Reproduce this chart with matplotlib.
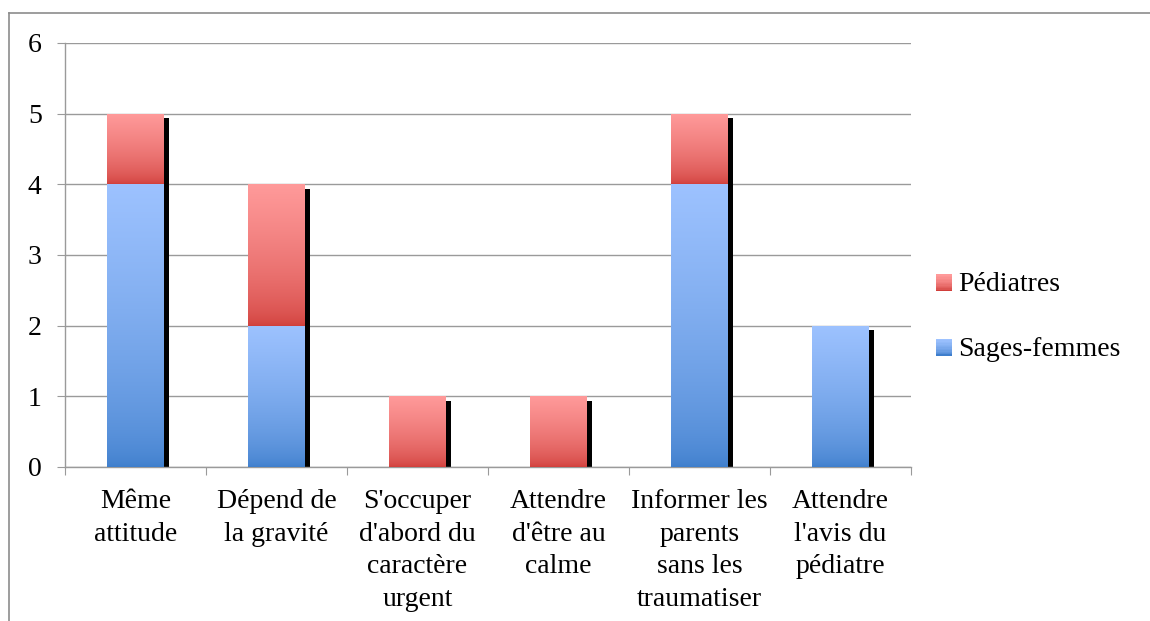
import numpy as np
import matplotlib
matplotlib.use("Agg")
import matplotlib.pyplot as plt
from matplotlib.transforms import ScaledTranslation
from matplotlib.patches import Rectangle
from matplotlib.legend_handler import HandlerBase
from matplotlib.lines import Line2D

categories = ["Même\nattitude", "Dépend de\nla gravité", "S'occuper\nd'abord du\ncaractère\nurgent",
              "Attendre\nd'être au\ncalme", "Informer les\nparents\nsans les\ntraumatiser",
              "Attendre\nl'avis du\npédiatre"]
sages_femmes = [4, 2, 0, 0, 4, 2]
pediatres = [1, 2, 1, 1, 1, 0]
yticks = [0, 1, 2, 3, 4, 5, 6]

blue_dark, blue_light = np.array([62, 126, 204]) / 255, np.array([157, 194, 255]) / 255
red_dark, red_light = np.array([208, 62, 58]) / 255, np.array([255, 154, 154]) / 255

plt.rcParams['font.family'] = ['Liberation Serif', 'DejaVu Serif']
FS = 20

DPI = 100
fig = plt.figure(figsize=(11.5, 6.21), dpi=DPI)
W, H = 1150, 621
ax = fig.add_axes([65 / W, 1 - 467 / H, (911 - 65) / W, (467 - 43) / H])

# outer frame (top and left visible)
fig.add_artist(Line2D([9 / W, 1.0], [1 - 13 / H, 1 - 13 / H], transform=fig.transFigure, color='#8c8c8c', lw=1.2))
fig.add_artist(Line2D([9 / W, 9 / W], [0, 1 - 13 / H], transform=fig.transFigure, color='#8c8c8c', lw=1.2))

x = np.arange(len(categories))
width = 0.40
totals = [a + b for a, b in zip(sages_femmes, pediatres)]

# shadows
shadow_tr = ax.transData + ScaledTranslation(5.5 / DPI, -3 / DPI, fig.dpi_scale_trans)
for xi, t in zip(x, totals):
    if t > 0:
        ax.add_patch(Rectangle((xi - width / 2, 0), width, t - 0.02, facecolor='black',
                               edgecolor='none', transform=shadow_tr, zorder=2))


def grad_img(c0, c1, n=256, gamma=0.6):
    t = np.linspace(0, 1, n) ** gamma
    return (c0[None, :] * (1 - t[:, None]) + c1[None, :] * t[:, None])[:, None, :]


def grad_bar(xi, bottom, height, c0, c1):
    if height <= 0:
        return
    r = Rectangle((xi - width / 2, bottom), width, height, facecolor='none', edgecolor='none', zorder=3)
    ax.add_patch(r)
    im = ax.imshow(grad_img(c0, c1), extent=(xi - width / 2, xi + width / 2, bottom, bottom + height),
                   origin='lower', aspect='auto', zorder=3, interpolation='bilinear')
    im.set_clip_path(r)


for xi, s, p in zip(x, sages_femmes, pediatres):
    grad_bar(xi, 0, s, blue_dark, blue_light)
    grad_bar(xi, s, p, red_dark, red_light)

ax.set_xlim(-0.5, len(categories) - 0.5)
ax.set_ylim(0, 6)

ax.set_yticks(yticks)
ax.set_yticklabels([str(v) for v in yticks], fontsize=FS)
ax.yaxis.grid(True, color='#9a9a9a', lw=1.0)
ax.set_axisbelow(True)
ax.tick_params(axis='y', length=8 * 0.72, color='#9a9a9a', pad=11, labelsize=FS)

ax.set_xticks(np.arange(len(categories) + 1) - 0.5)
ax.set_xticklabels([])
ax.set_xticks(x, minor=True)
ax.set_xticklabels(categories, minor=True, fontsize=FS, linespacing=1.4)
ax.tick_params(axis='x', which='major', length=8 * 0.72, color='#9a9a9a')
ax.tick_params(axis='x', which='minor', length=0, pad=16)

for side in ['top', 'right']:
    ax.spines[side].set_visible(False)
for side in ['left', 'bottom']:
    ax.spines[side].set_color('#9a9a9a')
    ax.spines[side].set_linewidth(1.0)


class GradHandler(HandlerBase):
    def __init__(self, c0, c1):
        super().__init__()
        self.c0, self.c1 = c0, c1

    def create_artists(self, legend, orig_handle, xdescent, ydescent, width, height, fontsize, trans):
        n = 12
        size = height * 1.0
        x0 = width - size
        y0 = (height - size) / 2
        arts = []
        for i in range(n):
            t = (i / (n - 1)) ** 0.6
            c = self.c0 * (1 - t) + self.c1 * t
            arts.append(Rectangle((x0, y0 + i * size / n), size, size / n + 0.3, facecolor=c,
                                  edgecolor='none', transform=trans))
        return arts


h_red = Rectangle((0, 0), 1, 1)
h_blue = Rectangle((0, 0), 1, 1)
leg = fig.legend([h_red, h_blue], ["Pédiatres", "Sages-femmes"],
                 handler_map={h_red: GradHandler(red_dark, red_light), h_blue: GradHandler(blue_dark, blue_light)},
                 loc='center left', bbox_to_anchor=(937 / W, 1 - 317 / H), frameon=False, fontsize=FS,
                 labelspacing=1.42, handlelength=0.55, handleheight=0.55, handletextpad=0.22, borderaxespad=0,
                 borderpad=0)

fig.savefig("out.png", dpi=DPI)
